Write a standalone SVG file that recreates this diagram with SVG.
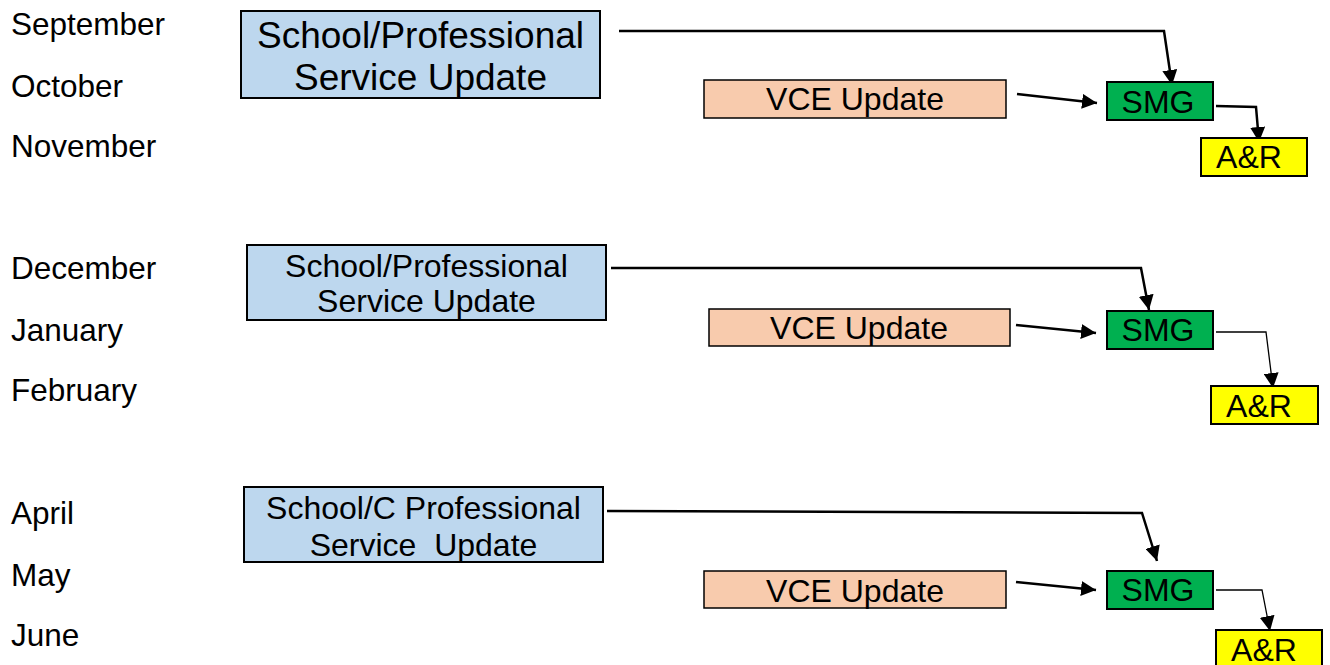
<svg xmlns="http://www.w3.org/2000/svg" width="1330" height="665" viewBox="0 0 1330 665">
<defs>
<style>
text{font-family:"Liberation Sans",Arial,sans-serif;fill:#000}
.m{font-size:31.5px}
.b{font-size:32px;text-anchor:middle}
.blue{fill:#bdd7ee;stroke:#000;stroke-width:2}
.vce{fill:#f8cbad;stroke:#000;stroke-width:1.5}
.smg{fill:#00b050;stroke:#000;stroke-width:2}
.ar{fill:#ffff00;stroke:#000;stroke-width:2}
.c{fill:none;stroke:#000;stroke-width:2.5}
.t{fill:none;stroke:#000;stroke-width:1.3}
</style>
<marker id="ah2" viewBox="0 0 10 10" refX="10" refY="5" markerWidth="15" markerHeight="15" markerUnits="userSpaceOnUse" orient="auto"><path d="M0,0 L10,5 L0,10 z" fill="#000"/></marker>
</defs>
<g id="months">
<text class="m" x="11" y="35">September</text>
<text class="m" x="11" y="97">October</text>
<text class="m" x="11" y="157">November</text>
<text class="m" x="11" y="279">December</text>
<text class="m" x="11" y="341">January</text>
<text class="m" x="11" y="401">February</text>
<text class="m" x="11" y="524">April</text>
<text class="m" x="11" y="586">May</text>
<text class="m" x="11" y="646">June</text>
</g>
<g id="connectors">
<polyline class="c" points="619,31 1164,31 1172,85" marker-end="url(#ah2)"/>
<line class="c" x1="1017" y1="94" x2="1097" y2="103" marker-end="url(#ah2)"/>
<polyline class="c" points="1216,106 1256,107 1259,142" marker-end="url(#ah2)"/>
<polyline class="c" points="611,268 1141,268 1149,310" marker-end="url(#ah2)"/>
<line class="c" x1="1016" y1="325" x2="1096" y2="333" marker-end="url(#ah2)"/>
<polyline class="t" points="1216,332 1266,332 1273,388" marker-end="url(#ah2)"/>
<polyline class="c" points="607,511 1142,513 1157,561" marker-end="url(#ah2)"/>
<line class="c" x1="1016" y1="582" x2="1096" y2="590" marker-end="url(#ah2)"/>
<polyline class="t" points="1216,590 1262,590 1270,631" marker-end="url(#ah2)"/>
</g>
<g id="sps1"><rect class="blue" x="241" y="11" width="359" height="87"/>
<text x="420.500" y="48" font-size="37" text-anchor="middle">School/Professional</text>
<text x="420.500" y="90" font-size="37" text-anchor="middle">Service Update</text></g>
<g id="vce1"><rect class="vce" x="704" y="80" width="302" height="38"/>
<text class="b" x="855" y="110">VCE Update</text></g>
<g id="smg1"><rect class="smg" x="1107" y="82" width="106" height="38"/>
<text class="b" x="1158" y="113">SMG</text></g>
<g id="ar1"><rect class="ar" x="1201" y="138" width="106" height="38"/>
<text class="b" x="1249" y="168">A&amp;R</text></g>
<g id="sps2"><rect class="blue" x="247" y="245" width="359" height="75"/>
<text class="b" x="426.500" y="277">School/Professional</text>
<text class="b" x="426.500" y="312">Service Update</text></g>
<g id="vce2"><rect class="vce" x="709" y="309" width="301" height="37"/>
<text class="b" x="859" y="339">VCE Update</text></g>
<g id="smg2"><rect class="smg" x="1107" y="311" width="106" height="38"/>
<text class="b" x="1158" y="341">SMG</text></g>
<g id="ar2"><rect class="ar" x="1211" y="386" width="107" height="38"/>
<text class="b" x="1259" y="417">A&amp;R</text></g>
<g id="sps3"><rect class="blue" x="244" y="487" width="359" height="75"/>
<text class="b" x="423.500" y="519">School/C Professional</text>
<text class="b" x="423.500" y="556" xml:space="preserve">Service  Update</text></g>
<g id="vce3"><rect class="vce" x="704" y="571" width="302" height="37"/>
<text class="b" x="855" y="602">VCE Update</text></g>
<g id="smg3"><rect class="smg" x="1107" y="571" width="106" height="38"/>
<text class="b" x="1158" y="601">SMG</text></g>
<g id="ar3"><rect class="ar" x="1216" y="630" width="106" height="40"/>
<text class="b" x="1264" y="661">A&amp;R</text></g>
</svg>
